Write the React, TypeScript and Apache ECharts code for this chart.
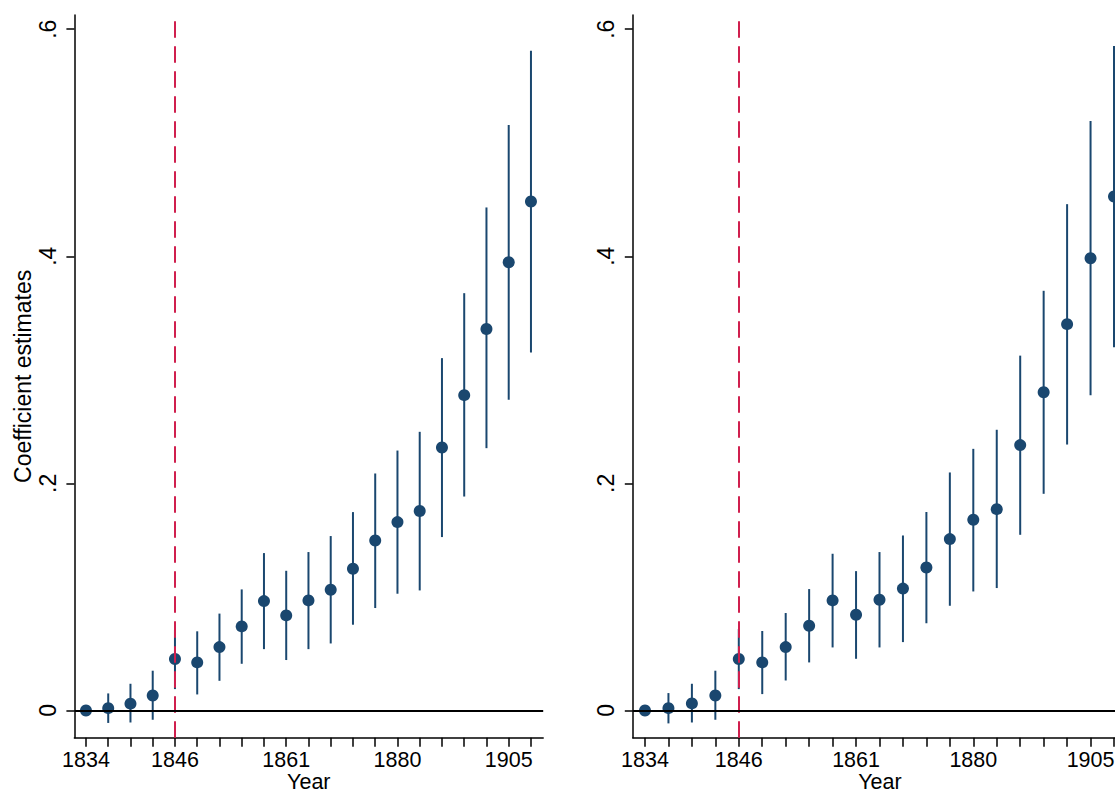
import React, { useEffect, useRef } from "react";
import * as echarts from "echarts";

// x positions are period indices (0..20); only some carry year labels
const periodIndex = [0, 1, 2, 3, 4, 5, 6, 7, 8, 9, 10, 11, 12, 13, 14, 15, 16, 17, 18, 19, 20];
const xLabelIndex = [0, 4, 9, 14, 19];
const xLabelText = ["1834", "1846", "1861", "1880", "1905"];
const treatIndex = 4; // 1846

const yTicks = [0, 0.2, 0.4, 0.6];
const yTickLabels = ["0", ".2", ".4", ".6"];

// Left panel
const leftEst = [0, 0.002, 0.006, 0.0132, 0.0453, 0.0423, 0.0558, 0.074, 0.0963, 0.0837, 0.0969, 0.1063, 0.1248, 0.1497, 0.1659, 0.1756, 0.2316, 0.2777, 0.336, 0.3948, 0.4482];
const leftLo = [null, -0.011, -0.0106, -0.0082, 0.0188, 0.0141, 0.0261, 0.0411, 0.054, 0.0444, 0.054, 0.059, 0.0755, 0.0902, 0.1028, 0.1057, 0.1527, 0.1884, 0.231, 0.2736, 0.3152];
const leftHi = [null, 0.015, 0.0235, 0.035, 0.0717, 0.0697, 0.0853, 0.1066, 0.1386, 0.123, 0.1395, 0.1536, 0.1747, 0.2087, 0.2289, 0.2454, 0.3103, 0.3675, 0.443, 0.5157, 0.5811];

// Right panel
const rightEst = [0, 0.002, 0.0062, 0.0132, 0.0453, 0.0423, 0.0558, 0.0746, 0.0969, 0.0843, 0.0975, 0.1073, 0.1259, 0.1509, 0.1679, 0.1773, 0.2337, 0.2802, 0.3402, 0.3983, 0.4526];
const rightLo = [null, -0.0114, -0.0106, -0.0082, 0.0188, 0.0144, 0.0264, 0.0423, 0.0555, 0.0455, 0.0555, 0.0602, 0.0768, 0.0922, 0.1048, 0.1078, 0.1547, 0.1908, 0.2342, 0.2776, 0.3198];
const rightHi = [null, 0.0153, 0.0235, 0.035, 0.0717, 0.07, 0.0858, 0.1069, 0.138, 0.1227, 0.1395, 0.1541, 0.1748, 0.2096, 0.2304, 0.2472, 0.3125, 0.3696, 0.4459, 0.5192, 0.5853];

const NAVY = "#1A476F";
const RED = "#D01F4E";
const FONT = "Liberation Sans, Arial, sans-serif";
const FS = 21.5;

function makeXAxis(gridIndex: number) {
  return {
    type: "value",
    gridIndex,
    min: -0.52,
    max: 20.55,
    name: "Year",
    nameLocation: "middle",
    nameGap: 33,
    nameMoveOverlap: false,
    nameTextStyle: { color: "#000", fontSize: FS, fontFamily: FONT },
    axisLine: { show: true, onZero: false, lineStyle: { color: "#000", width: 1.5 } },
    axisTick: { show: true, length: 9, lineStyle: { color: "#000", width: 1.5 }, customValues: periodIndex },
    axisLabel: {
      show: true,
      margin: 11,
      color: "#000",
      fontSize: FS,
      fontFamily: FONT,
      customValues: xLabelIndex,
      formatter: (v: number) => {
        const i = xLabelIndex.indexOf(Math.round(v));
        return i >= 0 ? xLabelText[i] : "";
      },
    },
    splitLine: { show: false },
  };
}

function makeYAxis(gridIndex: number, withName: boolean) {
  return {
    type: "value",
    gridIndex,
    min: -0.024,
    max: 0.6125,
    name: withName ? "Coefficient estimates" : "",
    nameLocation: "middle",
    nameGap: 40,
    nameMoveOverlap: false,
    nameTextStyle: { color: "#000", fontSize: 23, fontFamily: FONT },
    axisLine: { show: true, onZero: false, lineStyle: { color: "#000", width: 1.5 } },
    axisTick: { show: true, length: 8, lineStyle: { color: "#000", width: 1.5 }, customValues: yTicks },
    axisLabel: {
      show: true,
      rotate: 90,
      margin: 15,
      color: "#000",
      fontSize: 23,
      fontFamily: FONT,
      customValues: yTicks,
      formatter: (v: number) => {
        const i = yTicks.findIndex((t) => Math.abs(t - v) < 1e-6);
        return i >= 0 ? yTickLabels[i] : "";
      },
    },
    splitLine: { show: false },
  };
}

function panelSeries(idx: number, est: number[], lo: (number | null)[], hi: (number | null)[]) {
  const ciData = periodIndex
    .map((x, i) => (lo[i] == null || hi[i] == null ? null : [x, lo[i], hi[i]]))
    .filter((d) => d !== null);
  return [
    {
      type: "line",
      xAxisIndex: idx,
      yAxisIndex: idx,
      data: [],
      z: 1,
      silent: true,
      markLine: {
        silent: true,
        symbol: ["none", "none"],
        label: { show: false },
        animation: false,
        data: [
          { xAxis: treatIndex, lineStyle: { color: RED, width: 2, type: [16.5, 8.5] } },
          { yAxis: 0, lineStyle: { color: "#000", width: 2, type: "solid" } },
        ],
      },
    },
    {
      type: "custom",
      xAxisIndex: idx,
      yAxisIndex: idx,
      z: 2,
      silent: true,
      data: ciData,
      renderItem: (params: any, api: any) => {
        const x = api.value(0);
        const p1 = api.coord([x, api.value(1)]);
        const p2 = api.coord([x, api.value(2)]);
        return {
          type: "line",
          shape: { x1: p1[0], y1: p1[1], x2: p2[0], y2: p2[1] },
          style: { stroke: NAVY, lineWidth: 2 },
        };
      },
    },
    {
      type: "scatter",
      xAxisIndex: idx,
      yAxisIndex: idx,
      z: 3,
      silent: true,
      symbol: "circle",
      symbolSize: 12,
      itemStyle: { color: NAVY, opacity: 1 },
      data: periodIndex.map((x, i) => [x, est[i]]),
    },
  ];
}

export default function App() {
  const ref = useRef<HTMLDivElement>(null);
  useEffect(() => {
    if (!ref.current) return;
    const chart = echarts.init(ref.current, null, { renderer: "svg" });
    chart.setOption({
      animation: false,
      backgroundColor: "#fff",
      textStyle: { fontFamily: FONT },
      grid: [
        { left: 74.4, top: 15, width: 468.8, height: 722.7, outerBoundsMode: "none", containLabel: false },
        { left: 632.8, top: 15, width: 494.1, height: 722.7, outerBoundsMode: "none", containLabel: false },
      ],
      xAxis: [makeXAxis(0), makeXAxis(1)],
      yAxis: [makeYAxis(0, true), makeYAxis(1, false)],
      series: [
        ...panelSeries(0, leftEst, leftLo, leftHi),
        ...panelSeries(1, rightEst, rightLo, rightHi),
      ],
    });
    return () => chart.dispose();
  }, []);
  return (
    <div
      ref={ref}
      style={{ position: "fixed", left: 0, top: 0, width: 1115, height: 794, background: "#fff" }}
    />
  );
}
